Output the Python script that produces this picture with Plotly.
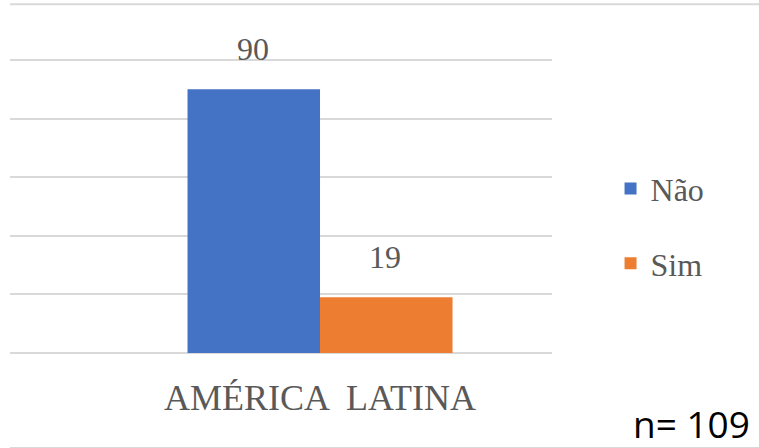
import plotly.graph_objects as go

# data
categories = ["AMÉRICA  LATINA"]
series_names = ["Não", "Sim"]
series_values = [[90], [19]]
series_colors = ["#4472C4", "#ED7D31"]
total_label = "n= 109"

SERIF = "Liberation Serif, Times New Roman, serif"
GREY = "#595959"
GRID = "#D9D9D9"

fig = go.Figure()
for name, values, color in zip(series_names, series_values, series_colors):
    fig.add_trace(go.Bar(
        x = categories, y = values, name = name,
        marker = dict(color = color, line = dict(width = 0)),
        legendgroup = name,
    ))

# value labels above each bar (Excel-style, a bit away from the top)
shifts = [-67, 65]
for values, shift in zip(series_values, shifts):
    for cat, v in zip(categories, values):
        fig.add_annotation(
            x = cat, y = v, xref = "x", yref = "y", text = str(v),
            showarrow = False, xshift = shift, yshift = 40, yanchor = "middle",
            font = dict(family = SERIF, size = 32, color = GREY),
        )

fig.add_annotation(
    x = 1.369, y = -0.239, xref = "paper", yref = "paper", text = total_label,
    showarrow = False, xanchor = "right", yanchor = "middle",
    font = dict(family = "Open Sans, Liberation Sans, sans-serif", size = 37, color = "black"),
)

# frame lines of the original picture
for yy in [1.178, -0.321]:
    fig.add_shape(type = "line", xref = "paper", yref = "paper",
        x0 = 0, x1 = 1.382, y0 = yy, y1 = yy,
        line = dict(color = GRID, width = 2))

fig.update_layout(
    width = 759, height = 448,
    margin = dict(l = 10, r = 207, t = 57, b = 95),
    paper_bgcolor = "white", plot_bgcolor = "white",
    barmode = "group", bargap = 0.511, bargroupgap = 0,
    showlegend = True,
    legend = dict(
        x = 1.108, xanchor = "left", y = 0.428, yanchor = "middle",
        font = dict(family = SERIF, size = 32, color = GREY),
        tracegroupgap = 30, bgcolor = "rgba(0,0,0,0)",
    ),
    font = dict(family = SERIF, color = GREY),
)
fig.update_xaxes(
    range = [-0.572, 0.428], showgrid = False, showline = False, ticks = "",
    tickfont = dict(family = SERIF, size = 36, color = GREY),
    ticklabelstandoff = 20,
)
# top a hair above 100 so the 100 gridline is still drawn
fig.update_yaxes(
    range = [0, 101], dtick = 20, showticklabels = False,
    showgrid = True, gridcolor = GRID, gridwidth = 2,
    zeroline = True, zerolinecolor = GRID, zerolinewidth = 2,
)

fig.write_html("out.html", config = {"displayModeBar": False},
    post_script = "document.body.style.margin = '0';")
